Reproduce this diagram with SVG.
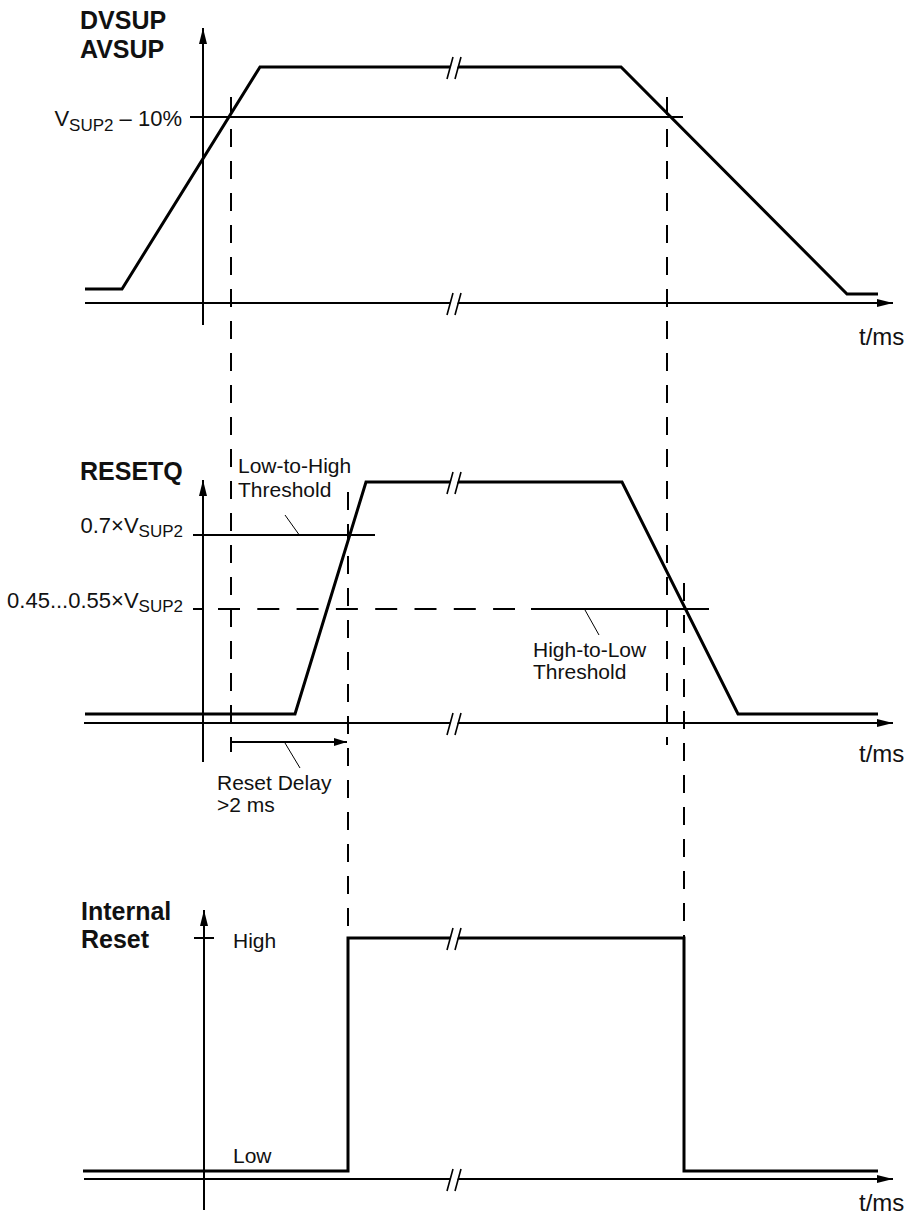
<svg xmlns="http://www.w3.org/2000/svg" width="911" height="1223" viewBox="0 0 911 1223">
<defs>
<style>
.sig{stroke:#000;stroke-width:3;fill:none;stroke-linejoin:miter}
.ax{stroke:#000;stroke-width:2;fill:none}
.th{stroke:#000;stroke-width:2;fill:none}
.vd{stroke:#000;stroke-width:2;fill:none;stroke-dasharray:18 14}
.hd{stroke:#000;stroke-width:2;fill:none;stroke-dasharray:22 17.3}
.ld{stroke:#000;stroke-width:1;fill:none}
.brk{stroke:#000;stroke-width:1.6;fill:none}
.gap{fill:#fff;stroke:none}
text{font-family:"Liberation Sans",Arial,Helvetica,sans-serif;fill:#111}
.b{font-weight:bold;font-size:25px}
.r{font-size:21px}
.v{font-size:22px}
.s{font-size:17px}
.t{font-size:24px}
</style>
<marker id="ah" viewBox="0 0 16 8" refX="16" refY="4" markerWidth="16" markerHeight="8" markerUnits="userSpaceOnUse" orient="auto">
<path d="M0,0 L16,4 L0,8 z" fill="#000"/>
</marker>
<marker id="ahs" viewBox="0 0 13 8" refX="13" refY="4" markerWidth="13" markerHeight="8" markerUnits="userSpaceOnUse" orient="auto">
<path d="M0,0 L13,4 L0,8 z" fill="#000"/>
</marker>
<g id="brkmark">
<path class="gap" d="M449,4 L456,4 L460,-6 L453,-6 z"/>
<path class="brk" d="M447,12 L453,-10 M455,12 L461,-10"/>
</g>
</defs>

<g id="guides">
<line class="vd" x1="231" y1="97" x2="231" y2="752"/>
<line class="vd" x1="667" y1="97" x2="667" y2="745"/>
<line class="vd" x1="348" y1="492" x2="348" y2="938"/>
<line class="vd" x1="684" y1="583" x2="684" y2="938"/>
</g>

<g id="supply">
<text class="b" x="80" y="29">DVSUP</text>
<text class="b" x="80" y="58">AVSUP</text>
<line class="ax" x1="203" y1="325" x2="203" y2="28" marker-end="url(#ah)"/>
<line class="ax" x1="85" y1="303" x2="893" y2="303" marker-end="url(#ah)"/>
<line class="th" x1="190" y1="117" x2="683" y2="117"/>
<text class="v" x="182" y="126" text-anchor="end">V<tspan class="s" dy="5">SUP2</tspan><tspan dy="-5"> – 10%</tspan></text>
<polyline class="sig" points="85,289 122,289 260,67 621,67 847,294 878,294"/>
<use href="#brkmark" y="67"/>
<use href="#brkmark" y="303"/>
<text class="t" x="859" y="345">t/ms</text>
</g>

<g id="resetq">
<text class="b" x="80" y="480">RESETQ</text>
<line class="ax" x1="203" y1="762" x2="203" y2="480" marker-end="url(#ah)"/>
<line class="ax" x1="84" y1="723" x2="893" y2="723" marker-end="url(#ah)"/>
<line class="th" x1="193" y1="535" x2="375" y2="535"/>
<text class="v" x="183" y="533" text-anchor="end">0.7×V<tspan class="s" dy="4">SUP2</tspan></text>
<line class="th" x1="193" y1="609" x2="203" y2="609"/>
<line class="hd" x1="218" y1="609" x2="515" y2="609"/>
<line class="th" x1="531" y1="609" x2="709" y2="609"/>
<text class="v" x="183" y="608" text-anchor="end">0.45...0.55×V<tspan class="s" dy="4">SUP2</tspan></text>
<polyline class="sig" points="85,714 295,714 366,482 622,482 738,714 878,714"/>
<use href="#brkmark" y="482"/>
<use href="#brkmark" y="723"/>
<text class="r" x="238" y="473">Low-to-High</text>
<text class="r" x="238" y="497">Threshold</text>
<line class="ld" x1="285" y1="515" x2="300" y2="536"/>
<text class="r" x="533" y="657">High-to-Low</text>
<text class="r" x="533" y="679">Threshold</text>
<line class="ld" x1="585" y1="610" x2="599" y2="635"/>
<line class="ax" x1="231" y1="742" x2="347" y2="742" marker-end="url(#ahs)"/>
<line class="ld" x1="285" y1="743" x2="300" y2="768"/>
<text class="r" x="217" y="790">Reset Delay</text>
<text class="r" x="217" y="812">&gt;2 ms</text>
<text class="t" x="859" y="762">t/ms</text>
</g>

<g id="internal">
<text class="b" x="81" y="920">Internal</text>
<text class="b" x="81" y="948">Reset</text>
<line class="ax" x1="204" y1="1210" x2="204" y2="910" marker-end="url(#ah)"/>
<line class="ax" x1="194" y1="938" x2="214" y2="938"/>
<text class="r" x="233" y="948">High</text>
<text class="r" x="233" y="1163">Low</text>
<line class="ax" x1="84" y1="1179" x2="893" y2="1179" marker-end="url(#ah)"/>
<polyline class="sig" points="83,1171 348,1171 348,938 684,938 684,1171 878,1171"/>
<use href="#brkmark" y="938"/>
<use href="#brkmark" y="1179"/>
<text class="t" x="859" y="1211">t/ms</text>
</g>
</svg>
